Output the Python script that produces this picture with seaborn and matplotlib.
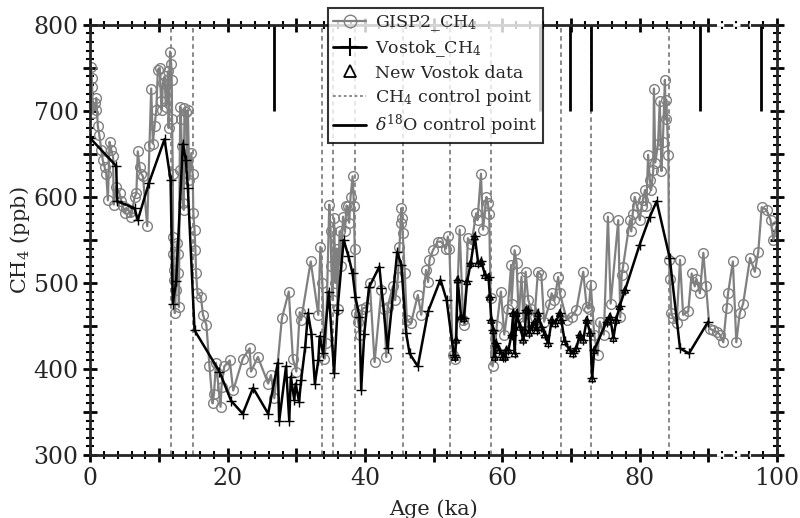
import numpy as np
import pandas as pd
import matplotlib
matplotlib.use("Agg")
import matplotlib.pyplot as plt
import seaborn as sns
from matplotlib.lines import Line2D
from matplotlib.ticker import MultipleLocator, FuncFormatter

# GISP2 CH4 record (age in ka, CH4 in ppb)
gisp2_age = [
    0.12, 0.2, 0.25, 0.36, 0.6, 0.75, 0.85, 1.09, 1.3, 1.58, 1.8, 2.06, 2.3, 2.55, 2.79,
    3.03, 3.3, 3.4, 3.76, 4.25, 4.5, 4.73, 4.98, 5.2, 5.7, 5.95, 6.43, 6.7, 6.9, 7.16,
    7.4, 7.65, 8.28, 8.6, 8.86, 9.1, 9.34, 9.6, 9.83, 10.1, 10.3, 10.4, 10.56, 10.8, 11.0,
    11.3, 11.4, 11.6, 11.77, 11.85, 11.9, 12.0, 12.05, 12.1, 12.15, 12.2, 12.3, 12.45, 12.6,
    12.7, 12.8, 12.9, 13.0, 13.1, 13.2, 13.3, 13.47, 13.6, 13.7, 13.96, 14.1, 14.2, 14.4,
    14.7, 14.9, 15.0, 15.17, 15.3, 15.4, 15.6, 16.1, 16.4, 16.9, 17.35, 17.8, 18.0, 18.3,
    18.96, 19.1, 19.5, 20.3, 20.8, 22.2, 23.2, 23.4, 24.4, 25.9, 26.3, 26.8, 27.9, 28.9,
    29.5, 30.0, 30.5, 30.7, 32.1, 33.2, 33.5, 33.8, 34.1, 34.3, 34.8, 35.0, 35.1, 35.3,
    35.5, 35.7, 35.9, 36.0, 36.3, 36.5, 36.8, 37.1, 37.3, 37.5, 37.7, 37.9, 38.2, 38.4,
    38.5, 38.7, 39.0, 39.3, 39.6, 40.2, 40.7, 41.4, 42.4, 42.8, 43.1, 43.3, 44.06, 44.4,
    44.8, 45.03, 45.2, 45.3, 45.4, 45.5, 45.8, 46.1, 46.7, 47.7, 48.2, 48.9, 49.2, 49.4,
    49.9, 50.6, 51.1, 51.8, 52.07, 52.3, 52.8, 53.1, 53.8, 54.3, 54.5, 55.0, 55.5, 56.2,
    56.4, 56.9, 57.2, 57.7, 57.9, 58.1, 58.3, 58.6, 58.9, 59.2, 59.8, 60.3, 60.8, 61.3,
    61.35, 61.8, 62.1, 62.4, 62.8, 63.1, 63.4, 63.8, 64.2, 64.7, 65.2, 65.7, 66.1, 66.9,
    67.2, 67.6, 68.15, 68.4, 69.4, 70.1, 70.8, 71.8, 72.3, 72.6, 72.9, 73.4, 73.9, 74.2,
    74.8, 75.4, 75.8, 76.9, 77.2, 77.4, 77.6, 78.6, 78.8, 79.0, 79.3, 79.6, 80.04, 80.3,
    80.5, 80.8, 81.0, 81.25, 81.5, 81.7, 82.0, 82.1, 82.3, 82.7, 82.95, 83.2, 83.4, 83.7,
    83.8, 83.9, 84.2, 84.3, 84.4, 84.65, 84.9, 85.4, 85.9, 86.35, 87.1, 87.6, 88.05, 88.3,
    88.8, 89.3, 89.7, 90.2, 90.7, 91.3, 91.7, 92.2, 92.7, 92.9, 93.6, 94.1, 94.6, 95.1,
    96.1, 96.8, 97.3, 97.8, 98.5, 99.1, 99.5, 99.95,
]
gisp2_ch4 = [
    751, 738, 728, 697, 709, 701, 715, 682, 672, 655, 643, 635, 627, 596, 664,
    655, 647, 591, 612, 604, 595, 589, 581, 587, 583, 577, 600, 604, 653, 635,
    627, 624, 566, 659, 726, 662, 682, 701, 748, 750, 711, 701, 732, 740, 705,
    746, 680, 769, 755, 736, 690, 627, 553, 534, 515, 503, 465, 492, 546,
    534, 511, 472, 631, 705, 690, 659, 593, 585, 703, 699, 635, 701, 620,
    651, 627, 581, 562, 538, 511, 488, 484, 463, 451, 403, 360, 371, 407,
    356, 379, 403, 410, 375, 412, 424, 397, 414, 383, 393, 366, 459, 490,
    412, 397, 466, 457, 525, 463, 542, 500, 412, 430, 591, 560, 520, 480,
    575, 500, 540, 470, 560, 520, 577, 560, 590, 589, 570, 600, 624, 590,
    540, 465, 455, 440, 470, 472, 500, 408, 492, 470, 414, 472, 496, 480,
    507, 542, 570, 587, 575, 558, 511, 457, 453, 486, 463, 515, 501, 527,
    538, 548, 548, 540, 554, 540, 416, 412, 562, 457, 451, 552, 545, 581,
    573, 627, 562, 600, 593, 580, 482, 403, 420, 450, 490, 440, 470, 521,
    476, 538, 523, 460, 507, 455, 513, 480, 470, 460, 513, 509, 455, 476,
    488, 480, 507, 488, 457, 461, 469, 513, 472, 470, 498, 440, 416, 455,
    440, 577, 476, 573, 460, 509, 519, 573, 560, 580, 600, 590, 573, 589,
    597, 608, 590, 649, 620, 608, 631, 726, 640, 662, 711, 630, 664, 736,
    690, 713, 649, 527, 505, 465, 459, 453, 527, 463, 467, 511, 496, 505,
    488, 535, 496, 447, 445, 443, 440, 431, 471, 488, 525, 431, 465, 476,
    529, 513, 536, 588, 585, 573, 550, 566,
]

# Vostok CH4, older record
vostok_age = [
    0.0, 3.76, 3.9, 6.43, 6.9, 8.52, 10.8, 11.68, 12.0, 12.5, 13.47, 13.9, 14.2, 15.17,
    18.8, 20.5, 22.2, 23.7, 25.9, 27.3, 27.5, 28.5, 28.97, 29.2, 29.7, 29.9, 30.4, 30.7,
    31.3, 31.7, 32.2, 32.7, 33.2, 33.4, 33.9, 34.74, 35.5, 36.0, 36.9, 37.6, 38.2, 38.6,
    39.2, 39.45, 39.9, 40.6, 42.1, 42.4, 43.3, 44.7, 45.3, 46.0, 46.5, 47.7, 49.2, 51.0,
    51.9, 52.95, 80.0, 81.5, 82.5, 84.4, 85.9, 87.2, 90.0,
]
vostok_ch4 = [
    668, 636, 595, 587, 573, 616, 667, 620, 476, 502, 662, 643, 610, 445,
    397, 363, 348, 378, 348, 407, 339, 403, 340, 391, 364, 383, 362, 387,
    426, 465, 441, 383, 410, 438, 418, 490, 395, 469, 550, 531, 511, 484,
    461, 376, 441, 495, 519, 494, 424, 536, 521, 442, 418, 403, 467, 504,
    480, 416, 544, 577, 595, 529, 424, 418, 455,
]

# new Vostok measurements
new_age = [
    53.1, 53.3, 53.5, 54.0, 54.4, 54.9, 55.4, 56.0, 56.5, 56.96, 57.5, 58.0, 58.2, 58.4,
    58.7, 58.9, 59.1, 59.6, 60.1, 60.4, 60.6, 60.9, 61.35, 61.6, 61.8, 62.1, 62.6, 63.05,
    63.3, 63.5, 63.8, 63.9, 64.3, 64.75, 65.0, 65.2, 65.7, 66.2, 66.7, 67.2, 67.7, 68.4,
    68.6, 69.1, 69.8, 70.3, 70.8, 71.3, 71.8, 72.3, 72.8, 73.1, 73.4, 75.2, 75.7, 76.2,
    76.6, 77.1, 77.9,
]
new_ch4 = [
    414, 434, 504, 461, 459, 502, 523, 554, 523, 525, 509, 507, 484, 457,
    445, 414, 430, 422, 414, 414, 422, 422, 440, 465, 418, 465, 449, 434,
    445, 469, 468, 442, 449, 455, 445, 465, 449, 440, 430, 457, 453, 465,
    457, 432, 422, 418, 424, 440, 434, 457, 442, 389, 422, 455, 461, 436,
    457, 473, 492,
]

ch4_ctrl = [11.77, 14.93, 33.77, 35.3, 38.6, 45.6, 52.46, 58.38, 68.5, 73.0, 84.3]
d18o_ctrl = [26.68, 65.48, 69.85, 73.0, 88.8, 97.76]

gisp2 = pd.DataFrame({"age": gisp2_age, "ch4": gisp2_ch4})
vostok = pd.DataFrame({"age": vostok_age + new_age, "ch4": vostok_ch4 + new_ch4}).sort_values("age")
newv = pd.DataFrame({"age": new_age, "ch4": new_ch4})

sns.set_style("ticks")
plt.rcParams["font.family"] = ["DejaVu Serif"]
plt.rcParams["mathtext.fontset"] = "dejavuserif"

fig = plt.figure(figsize=(8, 5.18), dpi=100)
ax = fig.add_axes([0.113, 0.1216, 0.858, 0.8304])

grey = "#808080"
for x in ch4_ctrl:
    ax.axvline(x, color=grey, ls=(0, (2.5, 2)), lw=1.3, zorder=1)
ax.vlines(d18o_ctrl, 700, 800, color="black", lw=2, zorder=1)

sns.lineplot(data=gisp2, x="age", y="ch4", sort=False, estimator=None, ax=ax,
             color=grey, lw=1.6, marker="o", markersize=7, markerfacecolor="none",
             markeredgecolor=grey, markeredgewidth=1.0, zorder=2)
sns.lineplot(data=vostok, x="age", y="ch4", sort=False, estimator=None, ax=ax,
             color="black", lw=1.8, marker="+", markersize=7, markeredgecolor="black",
             markeredgewidth=1.0, zorder=3)
sns.scatterplot(data=newv, x="age", y="ch4", ax=ax, marker="^", s=22,
                facecolor="none", edgecolor="black", linewidth=1.0, zorder=4)

ax.set_xlim(0, 100)
ax.set_ylim(300, 800)
ax.xaxis.set_major_locator(MultipleLocator(10))
ax.xaxis.set_minor_locator(MultipleLocator(2))
ax.yaxis.set_major_locator(MultipleLocator(50))
ax.yaxis.set_minor_locator(MultipleLocator(10))
ax.xaxis.set_major_formatter(FuncFormatter(lambda v, p: f"{v:.0f}" if round(v) % 20 == 0 else ""))
ax.yaxis.set_major_formatter(FuncFormatter(lambda v, p: f"{v:.0f}" if round(v) % 100 == 0 else ""))
ax.tick_params(which="both", direction="inout", top=True, right=True, labelsize=17, color="black")
ax.tick_params(which="major", length=10, width=2)
ax.tick_params(which="minor", length=6, width=1.5)
for s in ax.spines.values():
    s.set_linewidth(2)
    s.set_visible(True)

# broken axis segment near 92-96 ka
for yy in (800, 300):
    ax.plot([91.3, 96.2], [yy, yy], color="white", ls=(0, (2, 2.5)), lw=2.6,
            clip_on=False, zorder=10)

ax.set_xlabel("Age (ka)", fontsize=15, labelpad=7)
ax.set_ylabel("CH$_4$ (ppb)", fontsize=15, labelpad=1)

handles = [
    Line2D([], [], color=grey, lw=1.6, marker="o", markersize=9, markerfacecolor="none",
           markeredgecolor=grey),
    Line2D([], [], color="black", lw=2, marker="+", markersize=13, markeredgewidth=1.5),
    Line2D([], [], color="none", marker="^", markersize=9, markerfacecolor="none",
           markeredgecolor="black", markeredgewidth=1.3),
    Line2D([], [], color=grey, lw=1.3, ls=(0, (1.5, 1.5))),
    Line2D([], [], color="black", lw=2),
]
labels = ["GISP2_CH$_4$", "Vostok_CH$_4$", "New Vostok data", "CH$_4$ control point",
          r"$\delta^{18}$O control point"]
leg = fig.legend(handles, labels, loc="upper left", bbox_to_anchor=(0.41, 0.984),
                 fontsize=12.5, frameon=True, fancybox=False, edgecolor="black",
                 handlelength=1.9, borderpad=0.3, labelspacing=0.3, handletextpad=0.5,
                 borderaxespad=0.0)
leg.get_frame().set_linewidth(1.5)
leg.set_zorder(20)

fig.savefig("out.png", dpi=100)
